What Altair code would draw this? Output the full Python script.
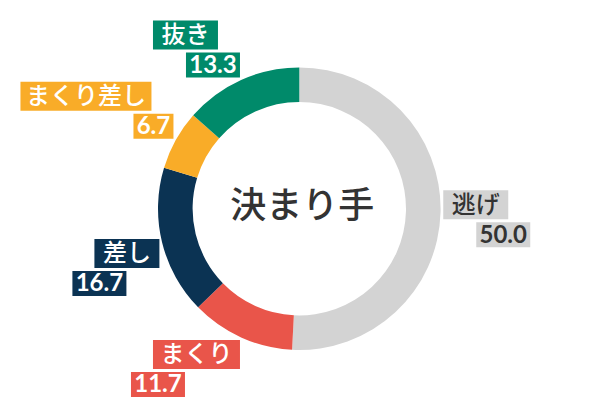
import math
import altair as alt
import pandas as pd

# ---- data ----
names = ["逃げ", "まくり", "差し", "まくり差し", "抜き"]
values = [50.0, 11.7, 16.7, 6.7, 13.3]
colors = ["#d3d3d3", "#e9554a", "#0b3353", "#f9ac28", "#008a6a"]
text_colors = ["#333333", "#ffffff", "#ffffff", "#ffffff", "#ffffff"]
center_title = "決まり手"

# ---- layout ----
W, H = 584, 404
CX, CY = 291.3, 200.7
R_OUT, R_IN = 141.3, 106.7
R_LAB = 144
CAT_H, VAL_H, GAP, STAGGER = 29, 25, 3, 22
JP_FONT = "Noto Sans CJK JP"
NUM_FONT = "Lato"

slices = pd.DataFrame({"name": names, "value": values, "idx": list(range(len(names)))})

total = sum(values)
boxes, texts = [], []
cum = 0.0
for n, v, col, tc in zip(names, values, colors, text_colors):
    mid = (cum + v / 2) / total * 2 * math.pi
    cum += v
    vx, vy = math.sin(mid), -math.cos(mid)
    label = f"{v:.1f}"
    cat_w = 21 + 22 * len(n)
    val_w = 6 + sum(6 if c == "." else 14 for c in label)
    bh = CAT_H + GAP + VAL_H
    upper = vy < 0.1
    if upper:
        lo, hi = min(-cat_w, STAGGER - val_w), STAGGER
    else:
        lo, hi = -STAGGER, max(cat_w, val_w - STAGGER)
    bw = hi - lo
    bx = CX + R_LAB * vx + math.copysign(1, vx) * bw / 2
    by = CY + R_LAB * vy + max(-1.0, min(1.0, 3 * vy + 0.15)) * bh / 2
    ref = bx - bw / 2 - lo
    if upper:
        cat_x0, cat_x1 = ref - cat_w, ref
        val_x0, val_x1 = ref + STAGGER - val_w, ref + STAGGER
    else:
        cat_x0, cat_x1 = ref, ref + cat_w
        val_x0, val_x1 = ref - STAGGER, ref - STAGGER + val_w
    top = by - bh / 2
    boxes.append({"x": cat_x0, "x2": cat_x1, "y": top, "y2": top + CAT_H, "fill": col})
    boxes.append({"x": val_x0, "x2": val_x1, "y": top + CAT_H + GAP, "y2": top + bh, "fill": col})
    texts.append({"x": (cat_x0 + cat_x1) / 2, "y": top + CAT_H / 2 + 1, "t": n, "tc": tc, "kind": "cat"})
    texts.append({"x": (val_x0 + val_x1) / 2, "y": top + CAT_H + GAP + VAL_H / 2 + 1, "t": label, "tc": tc, "kind": "val"})

box_df = pd.DataFrame(boxes)
txt_df = pd.DataFrame(texts)

arc = alt.Chart(slices).mark_arc(innerRadius=R_IN, outerRadius=R_OUT).encode(
    theta=alt.Theta("value:Q", stack=True),
    color=alt.Color("name:N", scale=alt.Scale(domain=names, range=colors), legend=None),
    order=alt.Order("idx:Q"),
    x=alt.value(CX),
    y=alt.value(CY),
)

rects = alt.Chart(box_df).mark_rect().encode(
    x=alt.X("x:Q", scale=None, axis=None),
    x2="x2:Q",
    y=alt.Y("y:Q", scale=None, axis=None),
    y2="y2:Q",
    fill=alt.Fill("fill:N", scale=None),
)

cat_text = alt.Chart(txt_df).transform_filter(alt.datum.kind == "cat").mark_text(
    font=JP_FONT, fontSize=24, fontWeight=500, align="center", baseline="middle"
).encode(
    x=alt.X("x:Q", scale=None, axis=None),
    y=alt.Y("y:Q", scale=None, axis=None),
    text="t:N",
    color=alt.Color("tc:N", scale=None),
)

val_text = alt.Chart(txt_df).transform_filter(alt.datum.kind == "val").mark_text(
    font=NUM_FONT, fontSize=24, fontWeight="bold", align="center", baseline="middle"
).encode(
    x=alt.X("x:Q", scale=None, axis=None),
    y=alt.Y("y:Q", scale=None, axis=None),
    text="t:N",
    color=alt.Color("tc:N", scale=None),
)

center = alt.Chart(pd.DataFrame({"t": [center_title]})).mark_text(
    font=JP_FONT, fontSize=36, fontWeight=500, color="#333333", align="center", baseline="middle"
).encode(text="t:N", x=alt.value(CX + 3), y=alt.value(CY - 2))

chart = alt.layer(arc, rects, cat_text, val_text, center).properties(
    width=W, height=H, padding=0, autosize="none"
).configure_view(strokeWidth=0)

chart.save("out.html", embed_options={"renderer": "svg", "actions": False})
